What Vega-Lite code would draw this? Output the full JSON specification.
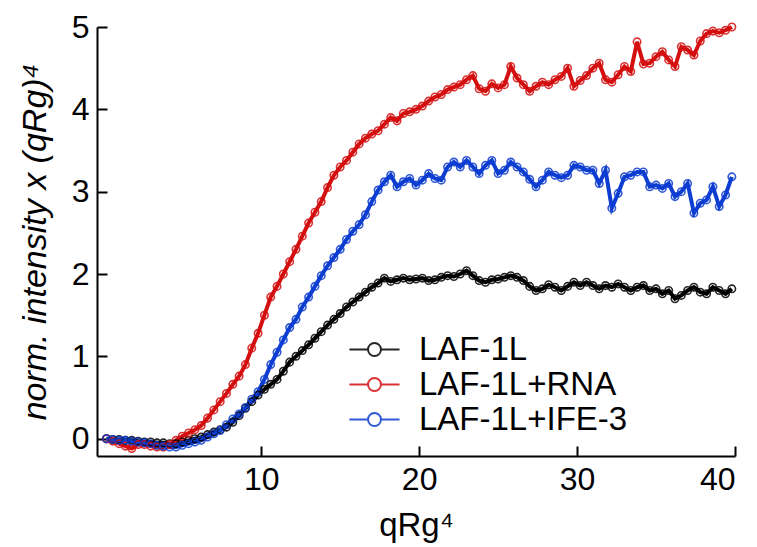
{
  "$schema": "https://vega.github.io/schema/vega-lite/v6.json",
  "autosize": "none",
  "width": 638,
  "height": 429,
  "padding": {"left": 97, "top": 27, "right": 22, "bottom": 91},
  "background": "white",
  "config": {
    "view": {"stroke": null},
    "font": "Liberation Sans",
    "axis": {
      "grid": false,
      "domainColor": "black",
      "domainWidth": 2,
      "tickColor": "black",
      "tickWidth": 2,
      "tickSize": -10,
      "labelFont": "Liberation Sans",
      "labelFontSize": 32,
      "labelColor": "black",
      "labelPadding": 18,
      "titleFont": "Liberation Sans",
      "titleFontSize": 33,
      "titleFontWeight": "normal",
      "titleColor": "black"
    }
  },
  "data": {
    "values": [
      {"x":0.2,"k":0,"r":0,"b":0},
      {"x":0.6,"k":-0.01,"r":-0.03,"b":-0.01},
      {"x":1.0,"k":-0.01,"r":-0.06,"b":-0.02},
      {"x":1.4,"k":-0.02,"r":-0.09,"b":-0.02},
      {"x":1.8,"k":-0.02,"r":-0.12,"b":-0.03},
      {"x":2.2,"k":-0.03,"r":-0.07,"b":-0.04},
      {"x":2.6,"k":-0.04,"r":-0.07,"b":-0.05},
      {"x":3.0,"k":-0.04,"r":-0.09,"b":-0.06},
      {"x":3.4,"k":-0.05,"r":-0.1,"b":-0.08},
      {"x":3.8,"k":-0.05,"r":-0.1,"b":-0.09},
      {"x":4.2,"k":-0.06,"r":-0.07,"b":-0.1},
      {"x":4.6,"k":-0.06,"r":-0.02,"b":-0.1},
      {"x":5.0,"k":-0.04,"r":0.03,"b":-0.08},
      {"x":5.4,"k":-0.02,"r":0.07,"b":-0.06},
      {"x":5.8,"k":0.0,"r":0.11,"b":-0.04},
      {"x":6.2,"k":0.02,"r":0.16,"b":-0.02},
      {"x":6.6,"k":0.05,"r":0.25,"b":0.02},
      {"x":7.0,"k":0.08,"r":0.35,"b":0.06},
      {"x":7.4,"k":0.11,"r":0.45,"b":0.1},
      {"x":7.8,"k":0.14,"r":0.55,"b":0.17},
      {"x":8.2,"k":0.2,"r":0.66,"b":0.24},
      {"x":8.6,"k":0.28,"r":0.76,"b":0.3},
      {"x":9.0,"k":0.37,"r":0.9,"b":0.38},
      {"x":9.4,"k":0.45,"r":1.1,"b":0.48},
      {"x":9.8,"k":0.53,"r":1.28,"b":0.57},
      {"x":10.2,"k":0.6,"r":1.5,"b":0.72},
      {"x":10.6,"k":0.66,"r":1.72,"b":0.9},
      {"x":11.0,"k":0.72,"r":1.85,"b":1.05},
      {"x":11.4,"k":0.82,"r":2.0,"b":1.2},
      {"x":11.8,"k":0.93,"r":2.15,"b":1.35},
      {"x":12.2,"k":1.0,"r":2.3,"b":1.45},
      {"x":12.6,"k":1.07,"r":2.46,"b":1.6},
      {"x":13.0,"k":1.14,"r":2.62,"b":1.72},
      {"x":13.4,"k":1.22,"r":2.75,"b":1.85},
      {"x":13.8,"k":1.3,"r":2.88,"b":1.98},
      {"x":14.2,"k":1.38,"r":3.05,"b":2.1},
      {"x":14.6,"k":1.45,"r":3.2,"b":2.2},
      {"x":15.0,"k":1.52,"r":3.3,"b":2.3},
      {"x":15.4,"k":1.6,"r":3.38,"b":2.42},
      {"x":15.8,"k":1.66,"r":3.48,"b":2.52},
      {"x":16.2,"k":1.72,"r":3.58,"b":2.6},
      {"x":16.6,"k":1.78,"r":3.65,"b":2.72},
      {"x":17.0,"k":1.84,"r":3.7,"b":2.88},
      {"x":17.4,"k":1.89,"r":3.74,"b":3.02},
      {"x":17.8,"k":1.95,"r":3.82,"b":3.12},
      {"x":18.2,"k":1.91,"r":3.9,"b":3.2},
      {"x":18.6,"k":1.93,"r":3.86,"b":3.06},
      {"x":19.0,"k":1.95,"r":3.95,"b":3.12},
      {"x":19.4,"k":1.93,"r":3.97,"b":3.16},
      {"x":19.8,"k":1.94,"r":4.0,"b":3.08},
      {"x":20.2,"k":1.95,"r":4.04,"b":3.14},
      {"x":20.6,"k":1.92,"r":4.1,"b":3.22},
      {"x":21.0,"k":1.93,"r":4.15,"b":3.16},
      {"x":21.4,"k":1.96,"r":4.18,"b":3.14},
      {"x":21.8,"k":1.98,"r":4.24,"b":3.3},
      {"x":22.2,"k":1.97,"r":4.27,"b":3.36},
      {"x":22.6,"k":2.0,"r":4.3,"b":3.3},
      {"x":23.0,"k":2.04,"r":4.36,"b":3.38},
      {"x":23.4,"k":1.98,"r":4.41,"b":3.3},
      {"x":23.8,"k":1.92,"r":4.25,"b":3.22},
      {"x":24.2,"k":1.9,"r":4.22,"b":3.32},
      {"x":24.6,"k":1.93,"r":4.31,"b":3.38},
      {"x":25.0,"k":1.94,"r":4.26,"b":3.22},
      {"x":25.4,"k":1.96,"r":4.3,"b":3.26},
      {"x":25.8,"k":1.98,"r":4.52,"b":3.36},
      {"x":26.2,"k":1.96,"r":4.38,"b":3.3},
      {"x":26.6,"k":1.92,"r":4.3,"b":3.24},
      {"x":27.0,"k":1.85,"r":4.22,"b":3.15},
      {"x":27.4,"k":1.8,"r":4.28,"b":3.06},
      {"x":27.8,"k":1.82,"r":4.33,"b":3.14},
      {"x":28.2,"k":1.87,"r":4.3,"b":3.24},
      {"x":28.6,"k":1.84,"r":4.36,"b":3.2},
      {"x":29.0,"k":1.8,"r":4.4,"b":3.17},
      {"x":29.4,"k":1.85,"r":4.5,"b":3.2},
      {"x":29.8,"k":1.9,"r":4.28,"b":3.32},
      {"x":30.2,"k":1.86,"r":4.35,"b":3.3},
      {"x":30.6,"k":1.9,"r":4.41,"b":3.26},
      {"x":31.0,"k":1.86,"r":4.5,"b":3.26},
      {"x":31.4,"k":1.82,"r":4.56,"b":3.1},
      {"x":31.8,"k":1.86,"r":4.36,"b":3.26},
      {"x":32.2,"k":1.84,"r":4.33,"b":2.8},
      {"x":32.6,"k":1.88,"r":4.42,"b":2.98},
      {"x":33.0,"k":1.84,"r":4.52,"b":3.18},
      {"x":33.4,"k":1.8,"r":4.46,"b":3.2},
      {"x":33.8,"k":1.84,"r":4.82,"b":3.24},
      {"x":34.2,"k":1.86,"r":4.55,"b":3.24},
      {"x":34.6,"k":1.8,"r":4.56,"b":3.06},
      {"x":35.0,"k":1.82,"r":4.64,"b":3.08},
      {"x":35.4,"k":1.76,"r":4.7,"b":3.04},
      {"x":35.8,"k":1.8,"r":4.6,"b":3.1},
      {"x":36.2,"k":1.7,"r":4.52,"b":2.94},
      {"x":36.6,"k":1.74,"r":4.76,"b":3.0},
      {"x":37.0,"k":1.8,"r":4.72,"b":3.1},
      {"x":37.4,"k":1.84,"r":4.66,"b":2.74},
      {"x":37.8,"k":1.78,"r":4.83,"b":2.86},
      {"x":38.2,"k":1.76,"r":4.92,"b":2.9},
      {"x":38.6,"k":1.84,"r":4.95,"b":3.06},
      {"x":39.0,"k":1.8,"r":4.93,"b":2.82},
      {"x":39.4,"k":1.76,"r":4.96,"b":2.96},
      {"x":39.8,"k":1.82,"r":5.0,"b":3.18}
    ]
  },
  "transform": [{"fold": ["k", "r", "b"], "as": ["s", "y"]}],
  "mark": {
    "type": "line",
    "strokeWidth": 4,
    "clip": false,
    "point": {"filled": false, "size": 55, "strokeWidth": 1.6, "opacity": 0.85}
  },
  "encoding": {
    "x": {
      "field": "x",
      "type": "quantitative",
      "scale": {"domain": [-0.4, 40], "nice": false, "zero": false},
      "axis": {"values": [10, 20, 30, 40], "title": "qRg⁴", "titlePadding": 14}
    },
    "y": {
      "field": "y",
      "type": "quantitative",
      "scale": {"domain": [-0.21, 5], "nice": false, "zero": false},
      "axis": {"values": [0, 1, 2, 3, 4, 5], "title": "norm. intensity x (qRg)⁴", "titleFontStyle": "italic", "titleFontSize": 34, "titlePadding": 19}
    },
    "color": {
      "field": "s",
      "type": "nominal",
      "scale": {"domain": ["k", "r", "b"], "range": ["#000000", "#d40f0f", "#0d3dd1"]},
      "legend": {
        "orient": "none",
        "legendX": 261,
        "legendY": 306,
        "title": null,
        "padding": 0,
        "rowPadding": 1,
        "labelFont": "Liberation Sans",
        "labelFontSize": 33,
        "labelLimit": 0,
        "labelColor": "black",
        "labelOffset": 28,
        "symbolType": "M-2.24,0L-0.58,0M0.58,0L2.24,0M-0.58,0A0.58,0.58,0,1,0,0.58,0A0.58,0.58,0,1,0,-0.58,0",
        "symbolSize": 500,
        "symbolStrokeWidth": 2,
        "symbolFillColor": "transparent",
        "labelExpr": "datum.label == 'k' ? 'LAF-1L' : datum.label == 'r' ? 'LAF-1L+RNA' : 'LAF-1L+IFE-3'"
      }
    }
  }
}
